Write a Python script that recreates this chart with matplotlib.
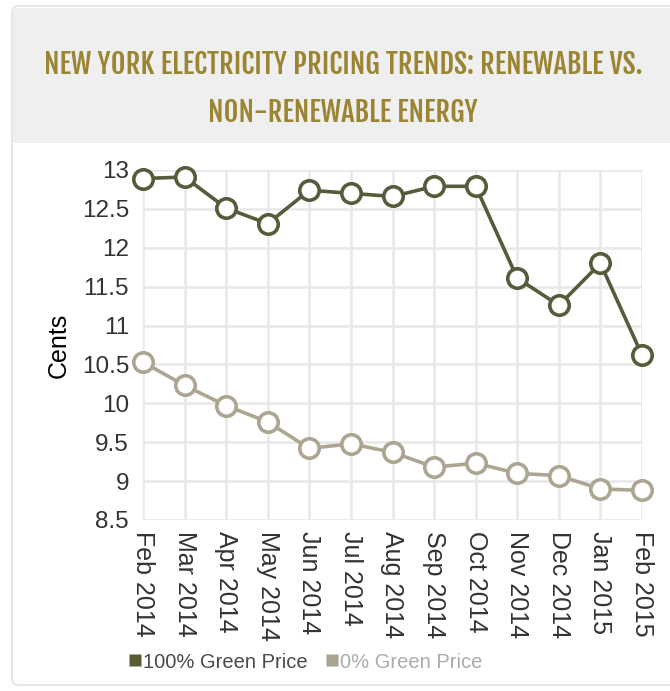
import matplotlib.pyplot as plt
from matplotlib.patches import FancyBboxPatch, Rectangle
from matplotlib.lines import Line2D

months = ["Feb 2014", "Mar 2014", "Apr 2014", "May 2014", "Jun 2014", "Jul 2014",
          "Aug 2014", "Sep 2014", "Oct 2014", "Nov 2014", "Dec 2014", "Jan 2015",
          "Feb 2015"]
green_100 = [12.89, 12.91, 12.51, 12.31, 12.74, 12.70, 12.66, 12.79, 12.79,
             11.61, 11.26, 11.80, 10.62]
green_0 = [10.53, 10.23, 9.97, 9.76, 9.42, 9.48, 9.37, 9.18, 9.23, 9.10, 9.07,
           8.90, 8.88]
yticks = [8.5, 9, 9.5, 10, 10.5, 11, 11.5, 12, 12.5, 13]

dark = "#585a3b"
light = "#aba592"
gold = "#9b8432"

plt.rcParams['font.family'] = ['Liberation Sans', 'DejaVu Sans']

W, H = 670, 691
fig = plt.figure(figsize=(W / 100, H / 100), dpi=100)
fig.patch.set_facecolor("white")

# card with grey header band
card = FancyBboxPatch((12 / W, 6 / H), 700 / W, 679 / H,
                      boxstyle="round,pad=0,rounding_size=0.01",
                      transform=fig.transFigure, facecolor="white", edgecolor="#e2e2e2",
                      linewidth=1.2, zorder=-2)
fig.patches.append(card)
header = Rectangle((13 / W, (H - 143) / H), 700 / W, 135 / H, transform=fig.transFigure,
                   facecolor="#efefef", edgecolor="none", zorder=-1)
fig.patches.append(header)

title_kw = dict(ha="center", va="center", color=gold, fontsize=20.5,
                family=["Fjalla One", "League Gothic", "DejaVu Sans"])
fig.text(343 / W, 1 - 64 / H, "NEW YORK ELECTRICITY PRICING TRENDS: RENEWABLE VS.", **title_kw)
fig.text(343 / W, 1 - 112 / H, "NON-RENEWABLE ENERGY", **title_kw)

ax = fig.add_axes([143 / W, 1 - 520 / H, (642 - 143) / W, (520 - 170) / H])
x = list(range(len(months)))
ax.plot(x, green_100, color=dark, lw=2.6, marker="o", ms=14, mfc="white", mec=dark,
        mew=2.6, clip_on=False, zorder=4)
ax.plot(x, green_0, color=light, lw=2.6, marker="o", ms=14, mfc="white", mec=light,
        mew=2.6, clip_on=False, zorder=3)

ax.set_xlim(0, len(months) - 1)
ax.set_ylim(8.5, 13)
ax.set_yticks(yticks)
ax.set_yticklabels([f"{v:g}" for v in yticks], fontsize=17.5, color="#333333")
ax.set_xticks(x)
ax.set_xticklabels(months, rotation=270, fontsize=18, color="#333333", va="top", ha="center")
ax.tick_params(axis="y", length=0, pad=10)
ax.tick_params(axis="x", length=0, pad=8)
ax.grid(True, color="#e8e8e8", lw=1.8)
ax.set_axisbelow(True)
for s in ax.spines.values():
    s.set_visible(False)
ax.set_ylabel("Cents", fontsize=18, color="black", labelpad=8)

handles = [Line2D([], [], ls="none", marker="s", ms=8, mfc="#5b5a35", mec="none"),
           Line2D([], [], ls="none", marker="s", ms=8, mfc="#aaa38e", mec="none")]
leg = fig.legend(handles, ["100% Green Price", "0% Green Price"], loc="center",
                 bbox_to_anchor=(305 / W, 1 - 662 / H), ncol=2, frameon=False, fontsize=14.5,
                 handletextpad=0.0, columnspacing=0.8, handlelength=0.8)
leg.get_texts()[0].set_color("#4a4a4a")
leg.get_texts()[1].set_color("#ababab")

fig.savefig("out.png", dpi=100, facecolor="white")
